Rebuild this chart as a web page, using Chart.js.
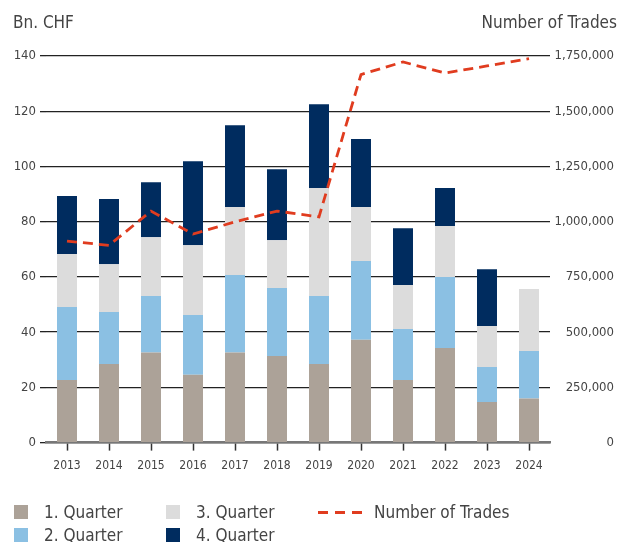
<!DOCTYPE html>
<html><head><meta charset="utf-8">
<script src="https://cdn.jsdelivr.net/npm/chart.js@4/dist/chart.umd.min.js"></script>
<style>
html,body{margin:0;padding:0;background:#fff;}
#wrap{position:relative;width:621px;height:542px;overflow:hidden;font-family:"Liberation Sans Narrow","DejaVu Sans Condensed","Open Sans",sans-serif;color:#444;}
canvas{position:absolute;left:0;top:0;}
.t{position:absolute;font-size:17px;line-height:20px;white-space:nowrap;}
.leg{position:absolute;font-size:17px;line-height:20px;white-space:nowrap;color:#444;}
.sw{position:absolute;width:14px;height:14px;}
.dash{position:absolute;width:46px;height:3px;background:repeating-linear-gradient(90deg,#e03c1f 0 10px,transparent 10px 17px);}
</style></head>
<body><div id="wrap"><canvas id="c" width="621" height="542"></canvas>
<div class="t" style="left:13px;top:12px;">Bn. CHF</div>
<div class="t" style="right:4px;top:12px;">Number of Trades</div>
<div id="legend"></div>
</div>
<script>
const years = ["2013","2014","2015","2016","2017","2018","2019","2020","2021","2022","2023","2024"];
const q1 = [22.7,28.5,32.6,24.6,32.6,31.4,28.5,37.2,22.7,34.3,14.7,16.0];
const q2 = [26.4,18.8,20.5,21.6,28.1,24.6,24.6,28.6,18.4,25.7,12.7,17.2];
const q3 = [19.2,17.3,21.3,25.3,24.6,17.3,39.1,19.5,16.0,18.4,14.8,22.4];
const q4 = [21.0,23.6,19.9,30.4,29.6,25.7,30.3,24.6,20.5,13.8,20.6,null];
const trades = [912000,893000,1048000,944000,999000,1048000,1022000,1666000,1723000,1673000,1705000,1738000];
const leftTicks = [0,20,40,60,80,100,120,140];
const rightTicks = [0,250000,500000,750000,1000000,1250000,1500000,1750000];

const FONT = '"Liberation Sans Narrow","DejaVu Sans Condensed","Open Sans",sans-serif';
const bp = {barPercentage:0.476, categoryPercentage:1.0};

const xTickMarks = {
  id:'xTickMarks',
  afterDraw(chart){
    const x = chart.scales.x, ctx = chart.ctx, y0 = chart.chartArea.bottom;
    ctx.save(); ctx.strokeStyle='#333'; ctx.lineWidth=1.5;
    x.ticks.forEach((t,i)=>{
      const px = Math.round(x.getPixelForTick(i))+0.5;
      ctx.beginPath(); ctx.moveTo(px,y0+1); ctx.lineTo(px,y0+8); ctx.stroke();
    });
    ctx.restore();
  }
};

const chart = new Chart(document.getElementById('c'), {
  data: {
    labels: years,
    datasets: [
      {type:'line', label:'Number of Trades', data:trades, yAxisID:'y1', borderColor:'#e03c1f', borderWidth:2.8, borderDash:[10,6], pointRadius:0, fill:false, tension:0, order:0},
      Object.assign({type:'bar', label:'1. Quarter', data:q1, backgroundColor:'#aca298', yAxisID:'y', stack:'s', order:1}, bp),
      Object.assign({type:'bar', label:'2. Quarter', data:q2, backgroundColor:'#8bc0e3', yAxisID:'y', stack:'s', order:1}, bp),
      Object.assign({type:'bar', label:'3. Quarter', data:q3, backgroundColor:'#dcdcdc', yAxisID:'y', stack:'s', order:1}, bp),
      Object.assign({type:'bar', label:'4. Quarter', data:q4, backgroundColor:'#002c5f', yAxisID:'y', stack:'s', order:1}, bp)
    ]
  },
  plugins:[xTickMarks],
  options: {
    responsive:false, animation:false, devicePixelRatio:1,
    layout:{padding:{top:56,bottom:60,left:0,right:7}},
    plugins:{legend:{display:false}, tooltip:{enabled:false}},
    scales:{
      x:{stacked:true, offset:true,
         grid:{display:false, drawTicks:true, tickLength:7},
         border:{display:true, color:'#777', width:2.5},
         ticks:{color:'#444', font:{family:FONT, size:12}, padding:9}},
      y:{stacked:true, position:'left', min:0, max:140,
         afterBuildTicks:s=>{s.ticks=leftTicks.map(v=>({value:v}));},
         afterFit:s=>{s.width=46;},
         grid:{color:'#222', lineWidth:1.3, drawTicks:true, tickLength:6},
         border:{display:false},
         ticks:{color:'#444', font:{family:FONT, size:13}, padding:4}},
      y1:{position:'right', min:0, max:1750000,
         afterBuildTicks:s=>{s.ticks=rightTicks.map(v=>({value:v}));},
         afterFit:s=>{s.width=64;},
         grid:{drawOnChartArea:false, drawTicks:false},
         border:{display:false},
         ticks:{color:'#444', font:{family:FONT, size:13}, padding:6, crossAlign:'far',
                callback:v=>Number(v).toLocaleString('en-US')}}
    }
  }
});

// HTML legend built from datasets
const leg = document.getElementById('legend');
const pos = {
  '1. Quarter':[14,505], '2. Quarter':[14,528], '3. Quarter':[166,505], '4. Quarter':[166,528], 'Number of Trades':[318,505]
};
chart.data.datasets.forEach(ds=>{
  const p = pos[ds.label];
  if(ds.type==='bar'){
    const sw=document.createElement('div'); sw.className='sw';
    sw.style.left=p[0]+'px'; sw.style.top=p[1]+'px'; sw.style.background=ds.backgroundColor;
    leg.appendChild(sw);
    const t=document.createElement('div'); t.className='leg'; t.textContent=ds.label;
    t.style.left=(p[0]+30)+'px'; t.style.top=(p[1]-3)+'px'; leg.appendChild(t);
  } else {
    const d=document.createElement('div'); d.className='dash';
    d.style.left=p[0]+'px'; d.style.top=(p[1]+6)+'px'; leg.appendChild(d);
    const t=document.createElement('div'); t.className='leg'; t.textContent=ds.label;
    t.style.left=(p[0]+56)+'px'; t.style.top=(p[1]-3)+'px'; leg.appendChild(t);
  }
});
</script></body></html>
